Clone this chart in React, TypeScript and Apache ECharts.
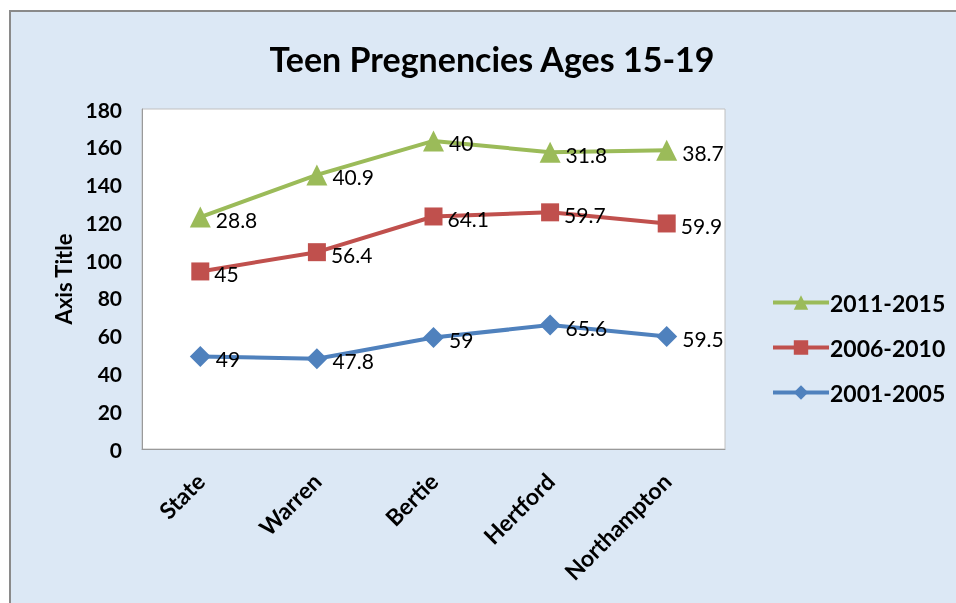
import React, { useEffect, useRef } from "react";
import * as echarts from "echarts";

const categories = ["State", "Warren", "Bertie", "Hertford", "Northampton"];
const seriesNames = ["2001-2005", "2006-2010", "2011-2015"];
const values2001 = [49, 47.8, 59, 65.6, 59.5];
const values2006 = [45, 56.4, 64.1, 59.7, 59.9];
const values2011 = [28.8, 40.9, 40, 31.8, 38.7];
const colors = ["#4f81bd", "#c0504d", "#9bbb59"];
const symbols = ["diamond", "rect", "triangle"];
const yMin = 0;
const yMax = 180;
const yInterval = 20;

const FONT = "Lato, 'Open Sans', sans-serif";

export default function App() {
  const ref = useRef<HTMLDivElement>(null);
  useEffect(() => {
    if (!ref.current) return;
    const chart = echarts.init(ref.current, null, { renderer: "svg" });
    const data = [values2001, values2006, values2011];
    const series = data.map((vals, i) => ({
      name: seriesNames[i],
      type: "line",
      stack: "total",
      data: vals,
      symbol: symbols[i],
      symbolSize: i === 1 ? 18 : 21,
      lineStyle: { color: colors[i], width: 4 },
      itemStyle: { color: colors[i] },
      label: {
        show: true,
        position: "right",
        distance: 5,
        color: "#000",
        fontFamily: FONT,
        fontSize: 21,
        offset: [0, 2],
      },
      emphasis: { disabled: true },
    }));
    chart.setOption({
      animation: false,
      backgroundColor: "transparent",
      graphic: [
        {
          type: "rect",
          shape: { x: 10, y: 11, width: 970, height: 620 },
          style: { fill: "#dce8f5", stroke: "#8a8a8a", lineWidth: 2 },
          z: -10,
        },
      ],
      title: {
        text: "Teen Pregnencies Ages 15-19",
        left: 487,
        textAlign: "center",
        top: 36,
        textStyle: {
          fontFamily: FONT,
          fontWeight: "bold",
          fontSize: 34,
          color: "#000",
        },
      },
      legend: {
        orient: "vertical",
        left: 766,
        top: 286,
        itemWidth: 56,
        itemHeight: 18,
        itemGap: 22,
        lineStyle: { width: 4 },
        data: [...seriesNames].reverse(),
        textStyle: {
          fontFamily: FONT,
          fontWeight: "bold",
          fontSize: 23,
          color: "#000",
          padding: [0, 0, 0, -4],
        },
      },
      grid: {
        left: 142,
        right: 231,
        top: 109,
        bottom: 154,
        show: true,
        backgroundColor: "#ffffff",
        borderColor: "#c0c0c0",
        borderWidth: 1,
      },
      xAxis: {
        type: "category",
        data: categories,
        boundaryGap: true,
        axisLine: { show: true, lineStyle: { color: "#9a9a9a" } },
        axisTick: { show: false },
        axisLabel: {
          rotate: 45,
          margin: 28,
          interval: 0,
          color: "#000",
          fontFamily: FONT,
          fontWeight: "bold",
          fontSize: 23,
        },
      },
      yAxis: {
        type: "value",
        min: yMin,
        max: yMax,
        interval: yInterval,
        name: "Axis Title",
        nameLocation: "middle",
        nameGap: 68,
        nameRotate: 90,
        nameTextStyle: {
          fontFamily: FONT,
          fontWeight: "bold",
          fontSize: 22,
          color: "#000",
        },
        axisLine: { show: true, lineStyle: { color: "#9a9a9a" } },
        axisTick: { show: false },
        splitLine: { show: false },
        axisLabel: {
          margin: 20,
          color: "#000",
          fontFamily: FONT,
          fontWeight: "bold",
          fontSize: 21,
        },
      },
      series,
    });
    return () => chart.dispose();
  }, []);
  return (
    <div
      ref={ref}
      style={{ position: "fixed", left: 0, top: 0, width: 956, height: 603 }}
    />
  );
}
